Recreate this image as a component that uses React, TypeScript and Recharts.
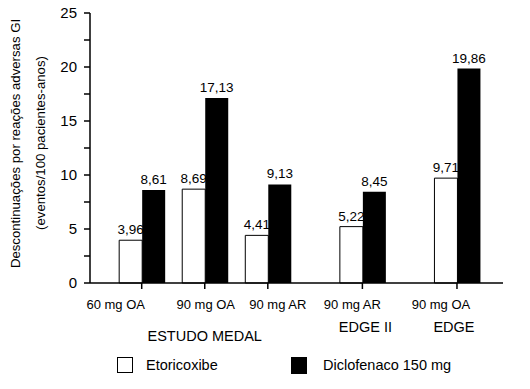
import { Bar, BarChart, LabelList, XAxis, YAxis } from "recharts";

// group labels on the x axis (dose + indication), study name below
const categories = ["60 mg OA", "90 mg OA", "90 mg AR", "90 mg AR", "90 mg OA"];
const studies = ["", "ESTUDO MEDAL", "", "EDGE II", "EDGE"];
// where each group sits along the x axis (studies are spaced further apart)
const positions = [0, 1, 2, 3.5, 5];

// discontinuations per 100 patient-years
const etoricoxibe = [3.96, 8.69, 4.41, 5.22, 9.71];
const diclofenaco = [8.61, 17.13, 9.13, 8.45, 19.86];

const yTicks = [0, 2.5, 5, 7.5, 10, 12.5, 15, 17.5, 20, 22.5, 25];

const data = positions.map((pos, i) => ({
    pos,
    etoricoxibe: etoricoxibe[i],
    diclofenaco: diclofenaco[i],
}));

// small nudges so the labels sit as in the original figure
const labelShift = [-26, 1, 10, -10, -16];
const studyShift = [0, 0, 0, 3, -3];
const studyDy = [0, 50, 0, 41, 41];

const FONT = '"Liberation Sans", Arial, sans-serif';

const fmt = (v: any) => String(v).replace(".", ",");

const XTick = (props: any) => {
    const { x, y, index } = props;
    return (
        <g>
            <text x={x + labelShift[index]} y={y} dy={17.5} textAnchor="middle" fontSize={13} fill="#000" fontFamily={FONT}>
                {categories[index]}
            </text>
            {studies[index] && (
                <text x={x + studyShift[index]} y={y} dy={studyDy[index]} textAnchor="middle" fontSize={14.5} fill="#000" fontFamily={FONT}>
                    {studies[index]}
                </text>
            )}
        </g>
    );
};

const YLabel = () => (
    <g fontFamily={FONT} fontSize={13.2} fill="#000">
        <text x={15} y={143.5} transform="rotate(-90 15 143.5)" textAnchor="middle" dominantBaseline="central">
            Descontinuações por reações adversas GI
        </text>
        <text x={40} y={143} transform="rotate(-90 40 143)" textAnchor="middle" dominantBaseline="central">
            (eventos/100 pacientes-anos)
        </text>
    </g>
);

const LegendBox = () => (
    <div style={{ position: "absolute", left: 0, top: 0, width: 530, fontFamily: FONT, fontSize: 14.5, color: "#000" }}>
        <div style={{ position: "absolute", left: 117, top: 357, width: 14, height: 14, border: "1.5px solid #000", background: "#fff" }} />
        <div style={{ position: "absolute", left: 146, top: 356, lineHeight: "18px" }}>Etoricoxibe</div>
        <div style={{ position: "absolute", left: 291, top: 357, width: 16, height: 17, background: "#000" }} />
        <div style={{ position: "absolute", left: 323, top: 356, lineHeight: "18px" }}>Diclofenaco 150 mg</div>
    </div>
);

export default function App() {
    return (
        <div style={{ position: "absolute", left: 0, top: 0, width: 530, height: 389, background: "#fff" }}>
            <BarChart
                width={530}
                height={389}
                data={data}
                margin={{ top: 13, right: 27, left: 0, bottom: 46 }}
                barGap={0}
                barSize={23}
            >
                <XAxis
                    type="number"
                    dataKey="pos"
                    domain={[-0.82, 5.73]}
                    ticks={positions}
                    interval={0}
                    height={60}
                    tickSize={6}
                    stroke="#000"
                    strokeWidth={1.5}
                    tick={<XTick />}
                />
                <YAxis
                    width={90}
                    domain={[0, 25]}
                    ticks={yTicks}
                    interval={0}
                    tickSize={6}
                    tickMargin={7}
                    stroke="#000"
                    strokeWidth={1.5}
                    tick={{ fontSize: 15, fill: "#000", fontFamily: FONT }}
                    tickFormatter={(v: number) => (v % 5 === 0 ? String(v) : "")}
                />
                <Bar dataKey="etoricoxibe" fill="#fff" stroke="#000" strokeWidth={1} isAnimationActive={false}>
                    <LabelList dataKey="etoricoxibe" position="top" offset={6} formatter={fmt} fontSize={13.5} fill="#000" fontFamily={FONT} />
                </Bar>
                <Bar dataKey="diclofenaco" fill="#000" isAnimationActive={false}>
                    <LabelList dataKey="diclofenaco" position="top" offset={6} formatter={fmt} fontSize={13.5} fill="#000" fontFamily={FONT} />
                </Bar>
                <YLabel />
            </BarChart>
            <LegendBox />
        </div>
    );
}
